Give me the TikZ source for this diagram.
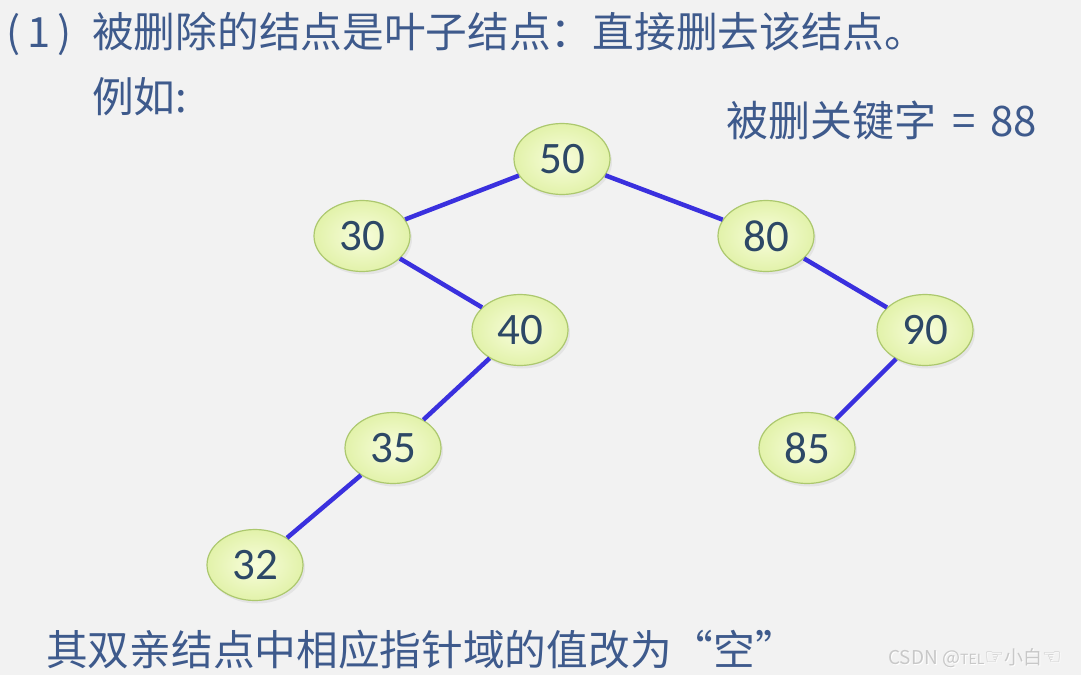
\documentclass[tikz,border=0pt]{standalone}
\usepackage{fontspec}
\newfontfamily\cjk{Noto Sans CJK SC}
\newfontfamily\numf{Carlito}
\newfontfamily\djv{DejaVu Sans}
\usetikzlibrary{shapes.geometric,shadows}
\definecolor{bgc}{RGB}{242,242,242}
\definecolor{txtc}{RGB}{62,90,140}
\definecolor{numc}{RGB}{45,72,102}
\definecolor{edgec}{RGB}{58,48,222}
\definecolor{nodeb}{RGB}{172,200,110}
\definecolor{nodein}{RGB}{248,253,220}
\definecolor{nodeout}{RGB}{226,242,170}
\definecolor{wmc}{RGB}{200,200,200}
\tikzset{
  treenode/.style={ellipse, draw=nodeb, line width=1.2pt, shading=radial,
    inner color=nodein, outer color=nodeout, minimum width=96pt, minimum height=71pt,
    inner sep=0pt, font=\numf\fontsize{45}{45}\selectfont, text=numc,
    drop shadow={opacity=0.12, shadow xshift=2pt, shadow yshift=-3pt}},
  treeedge/.style={draw=edgec, line width=4.5pt},
  bigtext/.style={inner sep=0pt, anchor=base west, text=txtc, font=\cjk\fontsize{41.7}{42}\selectfont},
  keytext/.style={inner sep=0pt, anchor=base west, text=txtc, font=\cjk\fontsize{42}{42}\selectfont},
  wmtext/.style={inner sep=0pt, anchor=base west, font=\cjk\fontsize{19}{19}\selectfont}
}
\begin{document}
\begin{tikzpicture}[x=1pt,y=-1pt]
\fill[bgc] (0,0) rectangle (1081,675);
\useasboundingbox (0,0) rectangle (1081,675);

\node[bigtext] (num) at (6,47) {(\hspace{7pt}1\hspace{7pt})};
\node[bigtext] (title) at (92,47) {被删除的结点是叶子结点：直接删去该结点。};
\node[bigtext] (eg) at (92,112) {例如:};
\node[keytext] (key) at (726,136) {被删关键字\hspace{7pt} = \hspace{5pt}88};
\node[bigtext] (bottom) at (46,665) {其双亲结点中相应指针域的值改为“空”};

\node[wmtext, text=white] (wmh) at (889,665) {CSDN @{\fontsize{14}{14}\selectfont TEL}{\djv\fontsize{22}{22}\selectfont ☞}小白{\djv\fontsize{22}{22}\selectfont ☜}};
\node[wmtext, text=wmc] (wm) at (888,664) {CSDN @{\fontsize{14}{14}\selectfont TEL}{\djv\fontsize{22}{22}\selectfont ☞}小白{\djv\fontsize{22}{22}\selectfont ☜}};

\node[treenode] (n50) at (562,159) {50};
\node[treenode] (n30) at (362,236) {30};
\node[treenode] (n80) at (766,236) {80};
\node[treenode] (n40) at (520,330) {40};
\node[treenode] (n90) at (925,330) {90};
\node[treenode] (n35) at (393,448) {35};
\node[treenode] (n85) at (807,448) {85};
\node[treenode] (n32) at (255,565) {32};

\draw[treeedge] (n50) -- (n30);
\draw[treeedge] (n50) -- (n80);
\draw[treeedge] (n30) -- (n40);
\draw[treeedge] (n40) -- (n35);
\draw[treeedge] (n35) -- (n32);
\draw[treeedge] (n80) -- (n90);
\draw[treeedge] (n90) -- (n85);
\end{tikzpicture}
\end{document}
